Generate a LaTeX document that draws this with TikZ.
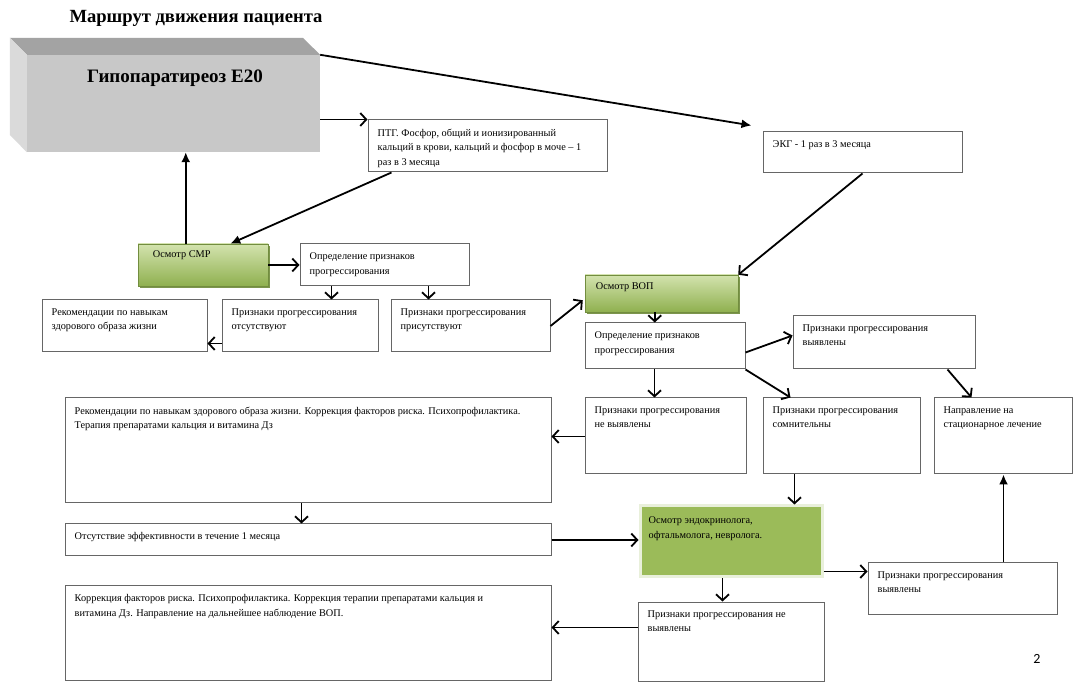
\documentclass[tikz,border=0pt]{standalone}
\usepackage{fontspec}
\setmainfont{Liberation Serif}
\newfontfamily\pgnumfont{Carlito}
\usetikzlibrary{arrows.meta,fit,calc,shadows}
\definecolor{boxline}{HTML}{666666}
\definecolor{gtop}{HTML}{D3E3AE}
\definecolor{gbot}{HTML}{8FB04F}
\definecolor{gshadow}{HTML}{6E8A3A}
\definecolor{endofill}{HTML}{9BBB59}
\definecolor{endoglow}{HTML}{E9F0DB}
\definecolor{cubetop}{HTML}{A3A3A3}
\definecolor{cubefront}{HTML}{C8C8C8}
\definecolor{cubeside}{HTML}{DADADA}
\newcommand\mkbox[6]{%
  \node[box, fit={(#2,#3)(#4,#5)}] (#1) {};
  \node[txt] (#1t) at ($(#1.north west)+(10,9)$) {#6};}
\begin{document}
\begin{tikzpicture}[x=1pt,y=-1pt,
  box/.style={draw=boxline, line width=1pt, inner sep=0pt, fill=white},
  txt/.style={inner sep=0pt, align=left, anchor=north west, font=\fontsize{10.3}{14.5}\selectfont},
  gbox/.style={inner sep=0pt, top color=gtop, bottom color=gbot, draw=gbot!80!black, line width=0.5pt,
     drop shadow={shadow xshift=1.5pt, shadow yshift=-2pt, fill=gshadow, opacity=0.9}},
  con/.style={line width=1.8pt, -{Straight Barb[length=6pt,width=13pt]}},
  fcon/.style={line width=1.8pt, -{Latex[length=10pt,width=9pt]}},
]
\fill[white] (0,0) rectangle (1080,692);
\useasboundingbox (0,0) rectangle (1080,692);

% title
\node[inner sep=0pt, font=\fontsize{18.6}{21}\selectfont\bfseries] (title) at (196,18) {Маршрут движения пациента};

% 3D box
\node[inner sep=0pt, fill=cubefront, fit={(27,55)(320,152)}] (big) {};
\fill[cubetop] (big.north west) -- ++(-17,-17) -- ++(293,0) -- (big.north east) -- cycle;
\fill[cubeside] (big.north west) -- ++(-17,-17) -- ++(0,97) -- (big.south west) -- cycle;
\node[inner sep=0pt, font=\fontsize{19}{22}\selectfont\bfseries] (bigt) at (175,78) {Гипопаратиреоз Е20};

% boxes
\mkbox{ptg}{368}{120}{607}{172}{ПТГ. Фосфор, общий и ионизированный\\кальций в крови, кальций и фосфор в моче – 1\\раз в 3 месяца}
\mkbox{ekg}{763}{132}{962}{173}{ЭКГ - 1 раз в 3 месяца}
\mkbox{opra}{300}{244}{469}{286}{Определение признаков\\прогрессирования}
\mkbox{reka}{42}{300}{207}{352}{Рекомендации по навыкам\\здорового образа жизни}
\mkbox{otsut}{222}{300}{378}{352}{Признаки прогрессирования\\отсутствуют}
\mkbox{prisut}{391}{300}{550}{352}{Признаки прогрессирования\\присутствуют}
\mkbox{oprb}{585}{323}{745}{369}{Определение признаков\\прогрессирования}
\mkbox{vyava}{793}{316}{975}{369}{Признаки прогрессирования\\выявлены}
\mkbox{recb}{65}{398}{551}{503}{Рекомендации по навыкам здорового образа жизни. Коррекция факторов риска. Психопрофилактика.\\Терапия препаратами кальция и витамина Дз}
\mkbox{nevyav}{585}{398}{746}{474}{Признаки прогрессирования\\не выявлены}
\mkbox{somn}{763}{398}{920}{474}{Признаки прогрессирования\\сомнительны}
\mkbox{napr}{934}{398}{1072}{474}{Направление на\\стационарное лечение}
\mkbox{otsef}{65}{524}{551}{556}{Отсутствие эффективности в течение 1 месяца}
\mkbox{vyavb}{868}{563}{1057}{614}{Признаки прогрессирования\\выявлены}
\mkbox{korr}{65}{586}{551}{680}{Коррекция факторов риска. Психопрофилактика. Коррекция терапии препаратами кальция и\\витамина Дз. Направление на дальнейшее наблюдение ВОП.}
\mkbox{nevyavb}{638}{602}{824}{681}{Признаки прогрессирования не\\выявлены}

% green boxes
\node[gbox, fit={(138,244)(268,286)}] (smr) {};
\node[txt] (smrt) at ($(smr.north west)+(15,7)$) {Осмотр СМР};
\node[gbox, fit={(585,275)(738,312)}] (vop) {};
\node[txt] (vopt) at ($(vop.north west)+(11,8)$) {Осмотр ВОП};
\node[inner sep=0pt, fill=endofill, draw=endoglow, line width=3pt, fit={(640,506)(822,577)}] (endo) {};
\node[txt] (endot) at ($(endo.north west)+(10,12)$) {Осмотр эндокринолога,\\офтальмолога, невролога.};

% connector helper coordinates
\coordinate (c1) at ($(smr.north west)+(48,0)$);
\coordinate (c3) at ($(ekg.north west)+(-11,-6)$);
\coordinate (c4a) at ($(ptg.south west)+(24,0)$);
\coordinate (c4b) at ($(smr.north east)+(-38,0)$);
\coordinate (c7) at ($(opra.south west)+(32,0)$);
\coordinate (c8) at ($(opra.south west)+(129,0)$);
\coordinate (c9) at ($(otsut.south west)+(0,-9)$);
\coordinate (c10) at ($(vop.south west)+(-2,-12)$);
\coordinate (c11) at ($(vop.south west)+(70,0)$);
\coordinate (c12a) at ($(oprb.south east)+(0,-17)$);
\coordinate (c12b) at ($(vyava.north west)+(0,20)$);
\coordinate (c13) at ($(oprb.south west)+(70,0)$);
\coordinate (c14) at ($(somn.north west)+(28,0)$);
\coordinate (c15a) at ($(vyava.south west)+(155,0)$);
\coordinate (c15b) at ($(napr.north west)+(38,0)$);
\coordinate (c16) at ($(nevyav.north west)+(0,39)$);
\coordinate (c17) at ($(somn.south west)+(32,0)$);
\coordinate (c18) at ($(recb.south west)+(237,0)$);
\coordinate (c20) at ($(endo.south east)+(0,-7)$);
\coordinate (c21) at ($(vyavb.north west)+(136,0)$);
\coordinate (c22) at ($(endo.south west)+(84,0)$);
\coordinate (c23) at ($(nevyavb.north west)+(0,26)$);

% connectors
\draw[fcon] (c1) -- (c1 |- big.south);
\draw[con] (ptg.north west -| big.east) -- (ptg.north west);
\draw[fcon] (big.north east) -- (c3);
\draw[fcon] (c4a) -- (c4b);
\draw[con] (ekg.south) -- (vop.north east);
\draw[con] (smr.east) -- (smr.east -| opra.west);
\draw[con] (c7) -- (c7 |- otsut.north);
\draw[con] (c8) -- (c8 |- prisut.north);
\draw[con] (c9) -- (c9 -| reka.east);
\draw[con] (prisut.east) -- (c10);
\draw[con] (c11) -- (c11 |- oprb.north);
\draw[con] (c12a) -- (c12b);
\draw[con] (c13) -- (c13 |- nevyav.north);
\draw[con] (oprb.south east) -- (c14);
\draw[con] (c15a) -- (c15b);
\draw[con] (c16) -- (c16 -| recb.east);
\draw[con] (c17) -- (c17 |- endo.north);
\draw[con] (c18) -- (c18 |- otsef.north);
\draw[con] (otsef.east) -- (otsef.east -| endo.west);
\draw[con] (c20) -- (c20 -| vyavb.west);
\draw[fcon] (c21) -- (c21 |- napr.south);
\draw[con] (c22) -- (c22 |- nevyavb.north);
\draw[con] (c23) -- (c23 -| korr.east);

% page number
\node[inner sep=0pt, font=\pgnumfont\fontsize{14}{16}\selectfont] (pg) at (1037,659) {2};
\end{tikzpicture}
\end{document}
